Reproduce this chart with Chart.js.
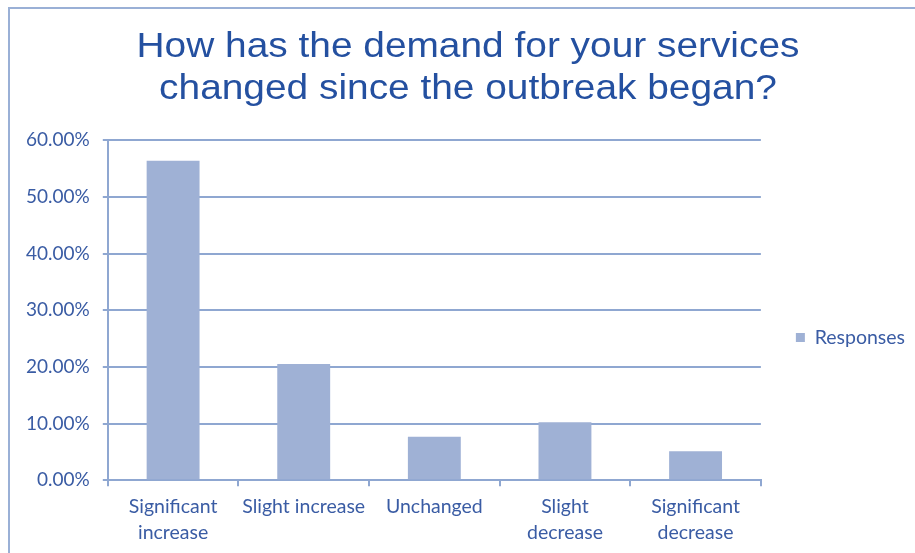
<!DOCTYPE html>
<html>
<head>
<meta charset="utf-8">
<script src="https://cdn.jsdelivr.net/npm/chart.js@4/dist/chart.umd.min.js"></script>
<style>
html,body{margin:0;padding:0;background:#fff;}
#wrap{position:relative;width:915px;height:553px;}
</style>
</head>
<body>
<div id="wrap"><canvas id="c" width="915" height="553"></canvas></div>
<script>
const categories = [["Significant","increase"],"Slight increase","Unchanged",["Slight","decrease"],["Significant","decrease"]];
const responses = [0.5641, 0.2051, 0.0769, 0.1026, 0.0513];
const yTicks = [0, 0.1, 0.2, 0.3, 0.4, 0.5, 0.6];
const titleLines = ["How has the demand for your services","changed since the outbreak began?"];
const seriesName = "Responses";

const gridColor = "#8FA7D1";
const textColor = "#3A5CA4";
const tickFont = "Lato, 'Open Sans', sans-serif";

const frame = {
  id: 'frame',
  beforeDraw(chart){
    const ctx = chart.ctx;
    ctx.save();
    ctx.fillStyle = '#fff';
    ctx.fillRect(0,0,chart.width,chart.height);
    ctx.strokeStyle = '#9AB0D6';
    ctx.lineWidth = 2;
    ctx.strokeRect(9, 8, 2000, 2000);
    ctx.restore();
    // widen the title glyphs horizontally, like the reference
    const tb = chart.titleBlock;
    if (tb && !tb._wide) {
      tb._wide = true;
      const orig = tb.draw.bind(tb);
      tb.draw = function(){
        const c = chart.ctx;
        const cx0 = (tb.left + tb.right) / 2;
        c.save();
        c.translate(468, 0);
        c.scale(1.11, 1);
        c.translate(-cx0, 0);
        orig();
        c.restore();
      };
    }
  }
};

new Chart(document.getElementById('c'), {
  type: 'bar',
  data: {
    labels: categories,
    datasets: [{
      label: seriesName,
      data: responses,
      backgroundColor: '#9FB1D5',
      barPercentage: 0.405,
      categoryPercentage: 1.0
    }]
  },
  plugins: [frame],
  options: {
    responsive: false,
    animation: false,
    layout: { padding: { left: 13, right: 0, top: 27, bottom: 0 } },
    plugins: {
      title: {
        display: true,
        text: titleLines,
        color: '#2450A0',
        font: { family: "'Liberation Sans', Arial, sans-serif", size: 35, weight: 'normal', lineHeight: 1.19 },
        padding: { top: 0, bottom: 30 }
      },
      legend: {
        display: true,
        position: 'right',
        title: { display: true, text: ' ', color: 'rgba(0,0,0,0)', font: { size: 10, lineHeight: 1.2 }, padding: { top: 0, bottom: 83 } },
        labels: {
          color: textColor,
          font: { family: tickFont, size: 19.5 },
          boxWidth: 9,
          boxHeight: 9,
          padding: 35
        }
      },
      tooltip: { enabled: false }
    },
    scales: {
      x: {
        grid: { display: true, drawOnChartArea: false, drawTicks: true, tickLength: 6, color: gridColor, lineWidth: 2, offset: true },
        border: { display: true, color: gridColor, width: 2 },
        ticks: { color: textColor, font: { family: tickFont, size: 19.5, lineHeight: 1.3 }, padding: 8, maxRotation: 0, autoSkip: false }
      },
      y: {
        min: 0, max: 0.6,
        afterBuildTicks(axis){ axis.ticks = yTicks.map(v => ({ value: v })); },
        grid: { color: gridColor, lineWidth: 2, tickLength: 5 },
        border: { display: true, color: gridColor, width: 2 },
        ticks: { color: textColor, font: { family: tickFont, size: 19 }, padding: 13,
          callback: v => (v * 100).toFixed(2) + '%' }
      }
    }
  }
});
</script>
</body>
</html>
